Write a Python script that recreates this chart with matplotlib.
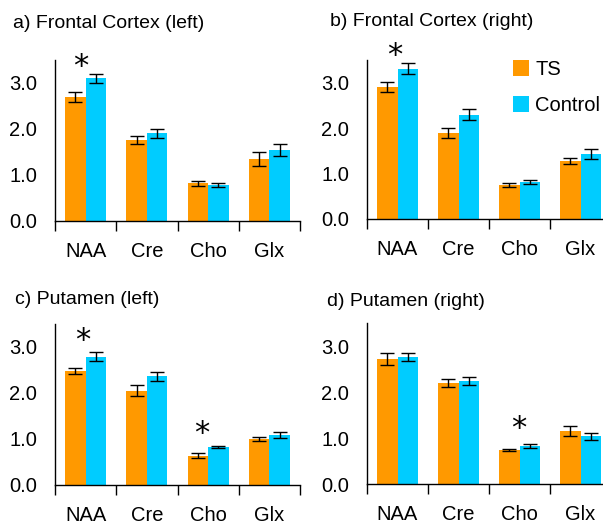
import numpy as np
import matplotlib
matplotlib.use("Agg")
import matplotlib.pyplot as plt

plt.rcParams["font.family"] = ["Liberation Sans", "DejaVu Sans"]

metabolites = ["NAA", "Cre", "Cho", "Glx"]
groups = ["TS", "Control"]

titles = ["a) Frontal Cortex (left)", "b) Frontal Cortex (right)",
          "c) Putamen (left)", "d) Putamen (right)"]

# means and errors per panel, order NAA, Cre, Cho, Glx
ts_mean = [[2.69, 1.76, 0.82, 1.34],
           [2.91, 1.90, 0.75, 1.28],
           [2.48, 2.05, 0.64, 1.00],
           [2.72, 2.20, 0.74, 1.15]]
ts_err = [[0.11, 0.09, 0.05, 0.15],
          [0.11, 0.11, 0.04, 0.065],
          [0.065, 0.115, 0.05, 0.04],
          [0.135, 0.085, 0.03, 0.11]]
ctl_mean = [[3.10, 1.91, 0.78, 1.54],
            [3.31, 2.30, 0.82, 1.42],
            [2.79, 2.36, 0.82, 1.09],
            [2.76, 2.24, 0.83, 1.04]]
ctl_err = [[0.09, 0.10, 0.045, 0.125],
           [0.12, 0.12, 0.04, 0.11],
           [0.095, 0.09, 0.025, 0.065],
           [0.09, 0.08, 0.04, 0.075]]

# significance markers: (panel, x, y)
stars = [(0, 0.42, 3.36), (1, 0.46, 3.60), (2, 0.46, 3.14),
         (2, 2.40, 1.12), (3, 2.49, 1.21)]

colors = ["#FF9900", "#00CCFF"]
W, H = 603, 525
fig = plt.figure(figsize=(W / 100, H / 100), dpi=100)

# axes rectangles in pixels: left, bottom(y from top), width, height
boxes = [(55, 221, 245, 161), (367, 219, 244, 159),
         (55, 485, 245, 161), (367, 484, 244, 161)]
title_pos = [(13, 24), (330, 22), (15, 300), (327, 302)]

axes = []
for i in range(4):
    l, b, w, h = boxes[i]
    ax = fig.add_axes([l / W, 1 - b / H, w / W, h / H])
    axes.append(ax)
    x = np.arange(4) + 0.5
    bw = 0.335
    ax.bar(x - bw / 2, ts_mean[i], bw, color=colors[0], label=groups[0])
    ax.bar(x + bw / 2, ctl_mean[i], bw, color=colors[1], label=groups[1])
    ax.errorbar(x - bw / 2, ts_mean[i], yerr=ts_err[i], fmt="none",
                ecolor="black", elinewidth=1, capsize=5, capthick=1)
    ax.errorbar(x + bw / 2, ctl_mean[i], yerr=ctl_err[i], fmt="none",
                ecolor="black", elinewidth=1, capsize=5, capthick=1)
    ax.set_xlim(0, 4)
    ax.set_ylim(0, 3.5)
    ax.set_yticks([0, 1, 2, 3])
    ax.set_yticklabels(["0.0", "1.0", "2.0", "3.0"], fontsize=14.5)
    ax.set_xticks([0, 1, 2, 3, 4])
    ax.set_xticklabels([])
    ax.set_xticks(x, minor=True)
    ax.set_xticklabels(metabolites, minor=True, fontsize=14.5)
    ax.tick_params(axis="x", which="major", length=7, width=1, direction="out")
    ax.tick_params(axis="x", which="minor", length=0, pad=15)
    ax.tick_params(axis="y", length=0, pad=13)
    for s in ["top", "right"]:
        ax.spines[s].set_visible(False)
    for s in ["left", "bottom"]:
        ax.spines[s].set_linewidth(1)
    fig.text(title_pos[i][0] / W, 1 - title_pos[i][1] / H, titles[i],
             fontsize=14, va="center", ha="left")

for p, sx, sy in stars:
    axes[p].text(sx, sy, "*", fontsize=22, ha="center", va="center",
                 family="DejaVu Sans", fontweight="normal", clip_on=False)

axes[1].legend(loc="upper left", bbox_to_anchor=(513 / W, 1 - 60 / H),
               bbox_transform=fig.transFigure, frameon=False, fontsize=14.5,
               handlelength=0.8, handleheight=0.8, handletextpad=0.3,
               labelspacing=0.85, borderpad=0, borderaxespad=0)

fig.savefig("out.png", dpi=100)
